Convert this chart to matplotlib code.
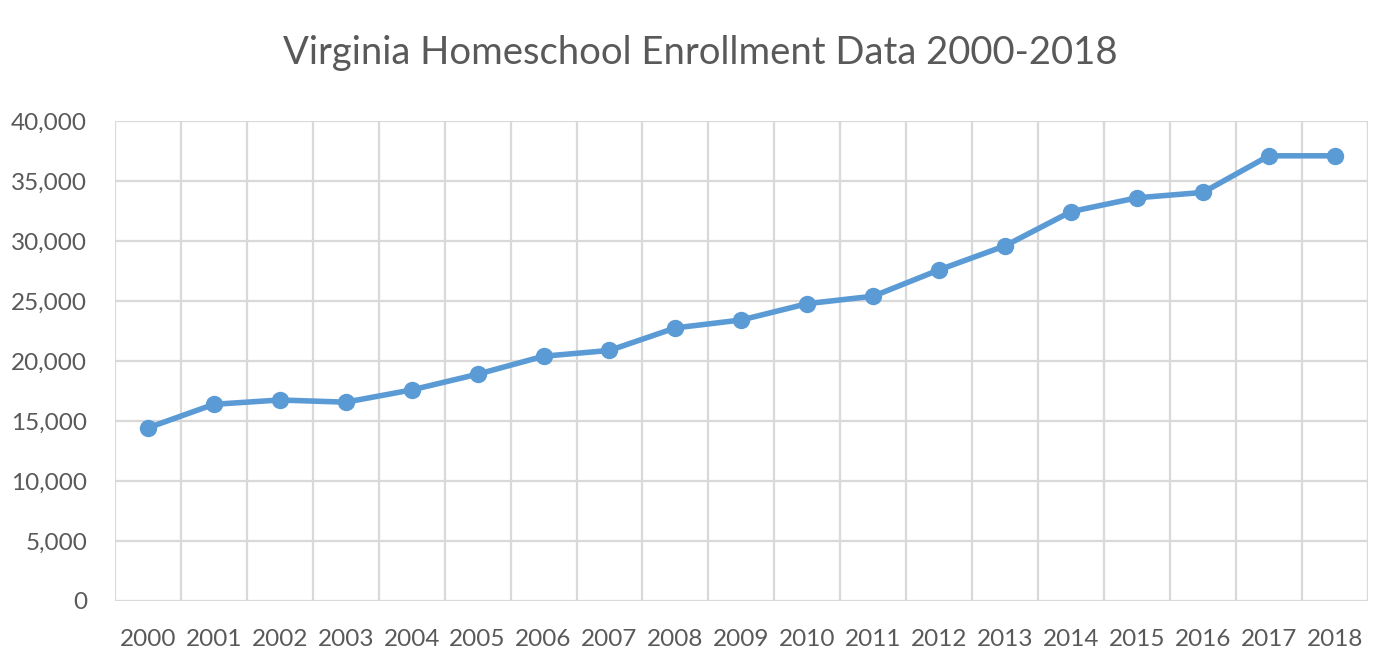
import matplotlib
matplotlib.use("Agg")
import matplotlib.pyplot as plt
from matplotlib.ticker import FuncFormatter, MultipleLocator

years = [str(y) for y in range(2000, 2019)]
enrollment = [14430, 16390, 16750, 16570, 17590, 18900, 20400, 20880, 22760,
              23420, 24780, 25400, 27600, 29600, 32450, 33600, 34050, 37100, 37100]

grid_col = "#d9d9d9"
text_col = "#595959"
line_col = "#5b9bd5"

plt.rcParams["font.family"] = ["Lato", "DejaVu Sans"]

fig = plt.figure(figsize=(14, 6.66), dpi=100)
ax = fig.add_axes([0.0821, 0.0976, 0.977 - 0.0821, 0.8183 - 0.0976])

x = list(range(len(years)))
ax.plot(x, enrollment, color=line_col, linewidth=4, marker="o",
        markersize=11.5, solid_capstyle="round", zorder=3)

ax.set_xlim(-0.5, len(years) - 0.5)
ax.set_ylim(0, 40000)
ax.yaxis.set_major_locator(MultipleLocator(5000))
ax.yaxis.set_major_formatter(FuncFormatter(lambda v, p: f"{int(v):,}"))
ax.set_xticks(x)
ax.set_xticklabels(years)
ax.set_xticks([i - 0.5 for i in range(len(years) + 1)], minor=True)

ax.grid(True, axis="y", which="major", color=grid_col, linewidth=1.6)
ax.grid(True, axis="x", which="minor", color=grid_col, linewidth=1.6)
ax.set_axisbelow(True)

for s in ax.spines.values():
    s.set_visible(False)
ax.tick_params(which="both", length=0, labelsize=17.5, labelcolor=text_col)
ax.tick_params(axis="x", pad=20)
ax.tick_params(axis="y", pad=20)

fig.suptitle("Virginia Homeschool Enrollment Data 2000-2018", x=0.5, y=0.948,
             fontsize=27.5, color=text_col)

fig.savefig("out.png", dpi=100)
